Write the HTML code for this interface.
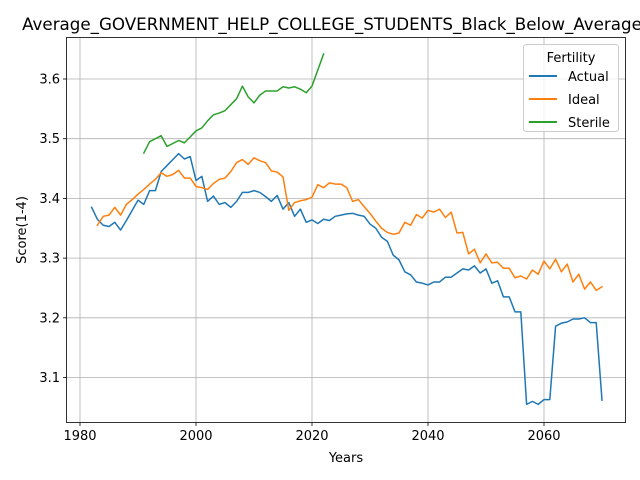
<!DOCTYPE html>
<html><head><meta charset="utf-8"><style>
body{margin:0;background:#fff;}
svg{display:block;font-family:"DejaVu Sans","Liberation Sans",sans-serif;}
</style></head><body>
<svg id="chart" width="640" height="480" viewBox="0 0 640 480" xmlns="http://www.w3.org/2000/svg">
<rect width="640" height="480" fill="#fff"/>
<g id="grid"></g>
<g id="series"></g>
<rect x="66.5" y="37.5" width="559" height="385" fill="none" stroke="#000" stroke-width="0.8"/>
<g id="ticks"></g>
<text x="332" y="30" font-size="16.7" text-anchor="middle">Average_GOVERNMENT_HELP_COLLEGE_STUDENTS_Black_Below_Average</text>
<text x="346" y="462" font-size="13" text-anchor="middle">Years</text>
<text transform="translate(26,230) rotate(-90)" font-size="13" text-anchor="middle">Score(1-4)</text>
<g>
<rect x="523.5" y="44.5" width="95" height="87" rx="3" fill="#fff" fill-opacity="0.8" stroke="#ccc"/>
<text x="571" y="62" font-size="13" text-anchor="middle">Fertility</text>
<line x1="529" y1="76" x2="557" y2="76" stroke="#1f77b4" stroke-width="2"/>
<text x="568" y="81" font-size="13">Actual</text>
<line x1="529" y1="99" x2="557" y2="99" stroke="#ff7f0e" stroke-width="2"/>
<text x="568" y="104" font-size="13">Ideal</text>
<line x1="529" y1="122" x2="557" y2="122" stroke="#2ca02c" stroke-width="2"/>
<text x="568" y="127" font-size="13">Sterile</text>
</g>
</svg>
<script>
const actualStart = 1982;
const actualValues = [3.385,3.365,3.355,3.353,3.36,3.347,3.363,3.38,3.397,3.39,3.413,3.413,3.445,3.455,3.465,3.475,3.466,3.47,3.43,3.437,3.395,3.404,3.39,3.393,3.385,3.395,3.41,3.41,3.413,3.41,3.403,3.395,3.405,3.382,3.393,3.37,3.382,3.36,3.364,3.358,3.365,3.363,3.37,3.372,3.374,3.375,3.372,3.37,3.357,3.35,3.335,3.328,3.305,3.297,3.277,3.272,3.26,3.258,3.255,3.26,3.26,3.268,3.268,3.275,3.282,3.28,3.287,3.275,3.282,3.258,3.262,3.235,3.235,3.21,3.21,3.055,3.06,3.055,3.063,3.063,3.186,3.191,3.193,3.198,3.198,3.2,3.192,3.192,3.062];
const idealStart = 1983;
const idealValues = [3.355,3.37,3.372,3.385,3.372,3.39,3.398,3.407,3.415,3.424,3.432,3.443,3.437,3.44,3.447,3.434,3.434,3.42,3.418,3.415,3.425,3.432,3.434,3.445,3.46,3.465,3.457,3.468,3.463,3.46,3.446,3.444,3.436,3.38,3.393,3.396,3.398,3.402,3.423,3.418,3.426,3.424,3.424,3.418,3.395,3.398,3.386,3.375,3.362,3.35,3.343,3.34,3.342,3.36,3.355,3.373,3.367,3.38,3.377,3.382,3.368,3.377,3.342,3.343,3.307,3.315,3.292,3.307,3.292,3.293,3.283,3.283,3.267,3.27,3.265,3.28,3.273,3.295,3.282,3.298,3.277,3.29,3.26,3.273,3.248,3.26,3.246,3.252];
const sterileStart = 1991;
const sterileValues = [3.476,3.495,3.5,3.505,3.487,3.492,3.497,3.493,3.503,3.513,3.518,3.53,3.54,3.543,3.547,3.557,3.567,3.588,3.57,3.56,3.573,3.58,3.58,3.58,3.587,3.585,3.587,3.583,3.577,3.588,3.615,3.642];
const xTicks = [1980,2000,2020,2040,2060];
const yTicks = [3.1,3.2,3.3,3.4,3.5,3.6];

const NS = "http://www.w3.org/2000/svg";
function xs(yr){ return 80 + (yr-1980)*5.8; }
function ys(v){ return 79 + (3.6-v)*597; }
const grid = document.getElementById('grid');
const ticks = document.getElementById('ticks');
const series = document.getElementById('series');
function mk(tag, attrs, parent){ const e=document.createElementNS(NS,tag); for(const k in attrs) e.setAttribute(k,attrs[k]); parent.appendChild(e); return e; }
xTicks.forEach(t=>{
  const x = xs(t);
  const g = mk('line',{x1:x,x2:x,y1:37.5,y2:422.5,stroke:'#b0b0b0','stroke-width':0.8},grid);
  
  
  mk('line',{x1:x,x2:x,y1:422.5,y2:426,stroke:'#000','stroke-width':0.8},ticks);
  const tx = mk('text',{x:x,y:440,'font-size':13,'text-anchor':'middle'},ticks);
  
  
  tx.textContent = t;
});
yTicks.forEach(t=>{
  const y = ys(t);
  const g = mk('line',{x1:66.5,x2:625.5,y1:y,y2:y,stroke:'#b0b0b0','stroke-width':0.8},grid);
  
  
  mk('line',{x1:63,x2:66.5,y1:y,y2:y,stroke:'#000','stroke-width':0.8},ticks);
  const tx = mk('text',{x:60,y:y+4.5,'font-size':13,'text-anchor':'end'},ticks);
  
  
  tx.textContent = t.toFixed(1);
});
function drawLine(start, vals, color, name){
  const pts = vals.map((v,i)=>xs(start+i).toFixed(2)+','+ys(v).toFixed(2)).join(' ');
  const p = mk('polyline',{points:pts,fill:'none',stroke:color,'stroke-width':1.5,'stroke-linejoin':'round','stroke-linecap':'square'},series);
  
  
}
drawLine(actualStart, actualValues, '#1f77b4', 'actual-line');
drawLine(idealStart, idealValues, '#ff7f0e', 'ideal-line');
drawLine(sterileStart, sterileValues, '#2ca02c', 'sterile-line');
</script>
</body></html>
